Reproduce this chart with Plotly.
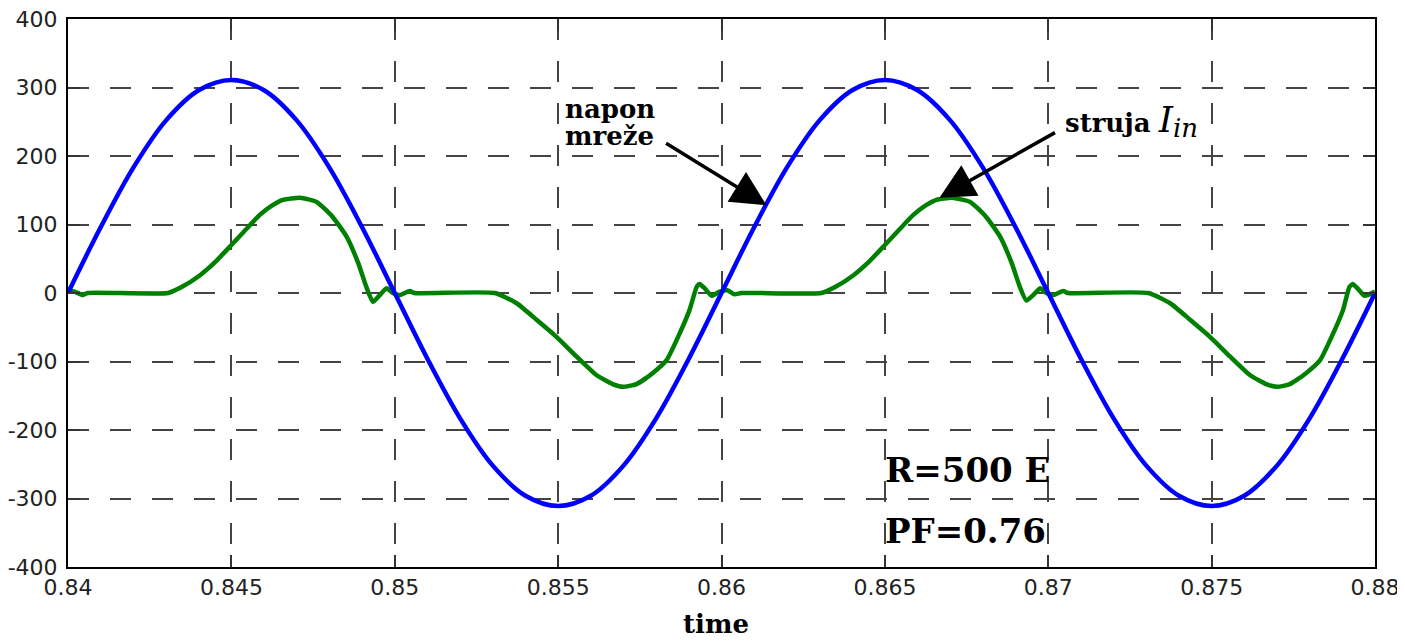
import plotly.graph_objects as go

# ---- data ----
t_voltage = [0.840, 0.841, 0.842, 0.843, 0.844, 0.845, 0.846, 0.847, 0.848, 0.849,
             0.850, 0.851, 0.852, 0.853, 0.854, 0.855, 0.856, 0.857, 0.858, 0.859,
             0.860, 0.861, 0.862, 0.863, 0.864, 0.865, 0.866, 0.867, 0.868, 0.869,
             0.870, 0.871, 0.872, 0.873, 0.874, 0.875, 0.876, 0.877, 0.878, 0.879,
             0.880]
voltage = [0, 96, 183, 252, 296, 311, 296, 252, 183, 96,
           0, -96, -183, -252, -296, -311, -296, -252, -183, -96,
           0, 96, 183, 252, 296, 311, 296, 252, 183, 96,
           0, -96, -183, -252, -296, -311, -296, -252, -183, -96,
           0]

t_current = [0.84000, 0.84020, 0.84045, 0.84060, 0.84306, 0.84349, 0.84404, 0.84450,
             0.84500, 0.84545, 0.84587, 0.84625, 0.84658, 0.84710, 0.84761, 0.84810,
             0.84853, 0.84888, 0.84913, 0.84933, 0.84954, 0.84975, 0.84994, 0.85015,
             0.85046, 0.85060, 0.85306, 0.85373, 0.85434, 0.85495, 0.85557, 0.85618,
             0.85667, 0.85697, 0.85740, 0.85789, 0.85832, 0.85872, 0.85902, 0.85924,
             0.85933, 0.85948, 0.85970, 0.85994, 0.86018, 0.86040, 0.86061,
             0.86306, 0.86349, 0.86404, 0.86450, 0.86500, 0.86545, 0.86587, 0.86625,
             0.86658, 0.86705, 0.86761, 0.86810, 0.86853, 0.86888, 0.86913, 0.86933,
             0.86954, 0.86975, 0.86994, 0.87015, 0.87046, 0.87060, 0.87306, 0.87373,
             0.87434, 0.87495, 0.87557, 0.87618, 0.87667, 0.87700, 0.87740, 0.87789,
             0.87832, 0.87872, 0.87902, 0.87922, 0.87932, 0.87948, 0.87968, 0.88000]
current = [4, 2, -3, 0, 0, 9, 26, 45,
           70, 93, 114, 128, 136, 139, 133, 111,
           82, 44, 9, -13, -3, 7, 0, -3,
           3, 0, 0, -15, -39, -64, -93, -120,
           -133, -137, -133, -117, -98, -59, -25, 9,
           13, 7, -4, 2, 4, -2, 0,
           0, 9, 26, 45, 70, 93, 114, 128,
           136, 139, 133, 111, 82, 44, 9, -11,
           -3, 7, 0, -3, 3, 0, 0, -15,
           -39, -64, -93, -120, -133, -137, -133, -117,
           -98, -59, -25, 9, 13, 6, -4, 2]

x_ticks = [0.84, 0.845, 0.85, 0.855, 0.86, 0.865, 0.87, 0.875, 0.88]
x_tick_labels = ["0.84", "0.845", "0.85", "0.855", "0.86", "0.865", "0.87", "0.875", "0.88"]
y_ticks = [-400, -300, -200, -100, 0, 100, 200, 300, 400]
y_tick_labels = ["-400", "-300", "-200", "-100", "0", "100", "200", "300", "400"]

fig = go.Figure()
fig.add_trace(go.Scatter(x=t_current, y=current, mode="lines",
                         line=dict(color="rgb(0,128,0)", width=4.5, shape="spline", smoothing=0.5),
                         showlegend=False, hoverinfo="skip"))
fig.add_trace(go.Scatter(x=t_voltage, y=voltage, mode="lines",
                         line=dict(color="rgb(0,0,255)", width=4.5, shape="spline", smoothing=1.0),
                         showlegend=False, hoverinfo="skip"))

axis_common = dict(
    showgrid=True, gridcolor="#444444", gridwidth=1.5, griddash="21px,21px",
    showline=True, linecolor="#000000", linewidth=2, mirror="ticks",
    ticks="inside", ticklen=12, tickwidth=1.5, tickcolor="#333333",
    zeroline=False, automargin=False, ticklabeloverflow="allow",
    tickfont=dict(family="DejaVu Sans", size=22, color="#222222"),
)

fig.update_xaxes(range=[0.84, 0.88], tickvals=x_ticks, ticktext=x_tick_labels, **axis_common)
fig.update_yaxes(range=[-400, 400], tickvals=y_ticks, ticktext=y_tick_labels,
                 ticklabelstandoff=4, **axis_common)


def px_to_paper(px, py):
    # page pixels -> paper coords of the plotting area (left 68, top 19, 1307x548)
    return (px - 68) / 1307.0, (567 - py) / 548.0


annotations = []
# arrows
annotations.append(dict(x=0.86138, y=128, xref="x", yref="y", ax=-102, ay=-63,
                        showarrow=True, arrowhead=2, arrowsize=2, arrowwidth=3.5,
                        arrowcolor="#000000", text=""))
annotations.append(dict(x=0.86667, y=139, xref="x", yref="y", ax=117, ay=-66,
                        showarrow=True, arrowhead=2, arrowsize=2, arrowwidth=3.5,
                        arrowcolor="#000000", text=""))

labels = [
    ("<b>napon</b>", 563, 109, 26),
    ("<b>mreže</b>", 563, 136, 26),
    ("<b>struja</b> <span style='font-size:36px'><i>I</i></span>"
     "<sub><span style='font-size:26px'><i>in</i></span></sub>", 1063, 121, 26),
    ("<b>R=500 E</b>", 883, 470, 34),
    ("<b>PF=0.76</b>", 883, 531, 34),
]
for text, px, py, size in labels:
    xp, yp = px_to_paper(px, py)
    annotations.append(dict(x=xp, y=yp, xref="paper", yref="paper", xanchor="left",
                            yanchor="middle", showarrow=False, text=text,
                            font=dict(family="DejaVu Serif", size=size, color="#000000")))

xp, yp = px_to_paper(716, 624)
annotations.append(dict(x=xp, y=yp, xref="paper", yref="paper", xanchor="center",
                        yanchor="middle", showarrow=False, text="<b>time</b>",
                        font=dict(family="DejaVu Serif", size=26, color="#000000")))

# page has an 8px body margin, so the figure is sized to fit the 1405x642 window
fig.update_layout(
    width=1397, height=634,
    margin=dict(l=60, r=30, t=11, b=75),
    paper_bgcolor="white", plot_bgcolor="white",
    annotations=annotations,
    showlegend=False,
)

fig.write_html("out.html")
